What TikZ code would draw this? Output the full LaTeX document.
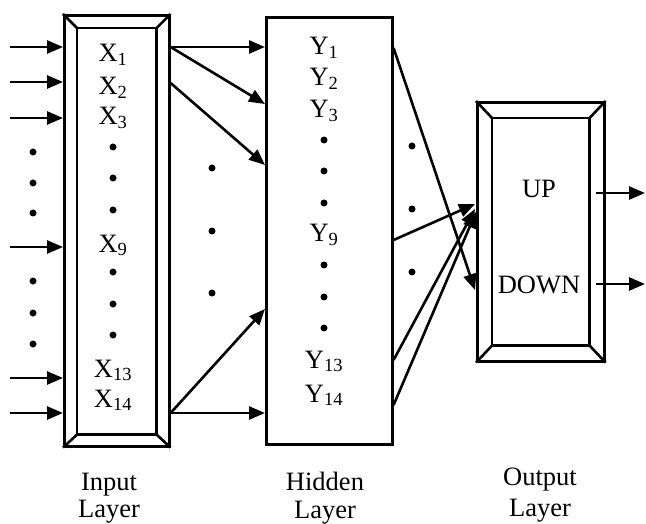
\documentclass[tikz,border=0pt]{standalone}
\usepackage{fontspec}
\setmainfont{Liberation Serif}
\usetikzlibrary{arrows.meta}
\begin{document}
\begin{tikzpicture}[x=1pt,y=-1pt, line width=2.6pt,
 lbl/.style={font=\fontsize{26.5}{30}\selectfont, inner sep=0pt, anchor=base},
 arr/.style={-{Triangle[length=16pt,width=13pt]}, line width=2.6pt},
 dotm/.style={circle, fill, inner sep=0pt, minimum size=7pt},
 boxn/.style={draw, inner sep=0pt, anchor=north west},
 ]
\useasboundingbox (0,0) rectangle (646,524);

% ---------- boxes ----------
\node[boxn, minimum width=105pt, minimum height=431pt] (inbox) at (63,14) {};
\draw ([shift={(14,14)}]inbox.north west) rectangle ([shift={(-14,-13)}]inbox.south east);
\draw (inbox.north west) -- ++(14,14);
\draw (inbox.north east) -- ++(-14,14);
\draw (inbox.south west) -- ++(14,-13);
\draw (inbox.south east) -- ++(-14,-13);

\node[boxn, minimum width=126pt, minimum height=427pt] (hid) at (265,16) {};

\node[boxn, minimum width=127pt, minimum height=259pt] (outbox) at (476,101) {};
\draw ([shift={(16,17)}]outbox.north west) rectangle ([shift={(-16,-17)}]outbox.south east);
\draw (outbox.north west) -- ++(16,17);
\draw (outbox.north east) -- ++(-16,17);
\draw (outbox.south west) -- ++(16,-17);
\draw (outbox.south east) -- ++(-16,-17);

% ---------- input labels ----------
\node[lbl] (x1) at (113,62) {X\textsubscript{1}};
\node[lbl] (x2) at (113,95) {X\textsubscript{2}};
\node[lbl] (x3) at (113,125) {X\textsubscript{3}};
\node[dotm] (xd1) at (113,147) {};
\node[dotm] (xd2) at (113,178) {};
\node[dotm] (xd3) at (113,210) {};
\node[lbl] (x9) at (113,252) {X\textsubscript{9}};
\node[dotm] (xd4) at (113,272) {};
\node[dotm] (xd5) at (113,304) {};
\node[dotm] (xd6) at (113,335) {};
\node[lbl] (x13) at (113,377) {X\textsubscript{13}};
\node[lbl] (x14) at (113,407) {X\textsubscript{14}};

% ---------- hidden labels ----------
\node[lbl] (y1) at (324,55) {Y\textsubscript{1}};
\node[lbl] (y2) at (324,86) {Y\textsubscript{2}};
\node[lbl] (y3) at (324,118) {Y\textsubscript{3}};
\node[dotm] (yd1) at (324,140) {};
\node[dotm] (yd2) at (324,171) {};
\node[dotm] (yd3) at (324,203) {};
\node[lbl] (y9) at (324,242) {Y\textsubscript{9}};
\node[dotm] (yd4) at (324,265) {};
\node[dotm] (yd5) at (324,297) {};
\node[dotm] (yd6) at (324,328) {};
\node[lbl] (y13) at (324,368) {Y\textsubscript{13}};
\node[lbl] (y14) at (324,402) {Y\textsubscript{14}};

% ---------- output labels ----------
\node[lbl] (up) at (539,198) {UP};
\node[lbl] (down) at (539,293) {DOWN};

% ---------- side dots ----------
\node[dotm] (ld1) at (33,152) {};
\node[dotm] (ld2) at (33,183) {};
\node[dotm] (ld3) at (33,213) {};
\node[dotm] (ld4) at (33,281) {};
\node[dotm] (ld5) at (33,313) {};
\node[dotm] (ld6) at (33,344) {};
\node[dotm] (md1) at (212,168) {};
\node[dotm] (md2) at (212,231) {};
\node[dotm] (md3) at (212,293) {};
\node[dotm] (rd1) at (412,146) {};
\node[dotm] (rd2) at (412,209) {};
\node[dotm] (rd3) at (412,272) {};

% ---------- input arrows ----------
\foreach \yy [count=\i] in {47,82,118,247,378,413} {
  \coordinate (in\i) at (10,\yy);
  \draw[arr] (in\i) -- (in\i -| inbox.west);
}

% ---------- input -> hidden ----------
\coordinate (a1) at (inbox.east |- 0,47);
\coordinate (a2) at (inbox.east |- 0,83);
\coordinate (a3) at (inbox.east |- 0,413);
\coordinate (h1) at (hid.west |- 0,47);
\coordinate (h2) at (hid.west |- 0,104);
\coordinate (h3) at (hid.west |- 0,165);
\coordinate (h4) at (hid.west |- 0,309);
\coordinate (h5) at (hid.west |- 0,413);
\draw[arr] (a1) -- (h1);
\draw[arr] (a1) -- (h2);
\draw[arr] (a2) -- (h3);
\draw[arr] (a3) -- (h4);
\draw[arr] (a3) -- (h5);

% ---------- hidden -> output ----------
\coordinate (b1) at (hid.east |- 0,48);
\coordinate (b2) at (hid.east |- 0,240);
\coordinate (b3) at (hid.east |- 0,360);
\coordinate (b4) at (hid.east |- 0,405);
\coordinate (o1) at (475,290);
\coordinate (o2) at (475,204);
\coordinate (o3) at (475,209);
\coordinate (o4) at (476,212);
\draw[arr] (b1) -- (o1);
\draw[arr] (b2) -- (o2);
\draw[arr] (b3) -- (o3);
\draw[arr] (b4) -- (o4);

% ---------- output arrows ----------
\coordinate (u0) at (596,193);
\coordinate (u1) at (645,193);
\coordinate (d0) at (596,284);
\coordinate (d1) at (645,284);
\draw[arr] (u0) -- (u1);
\draw[arr] (d0) -- (d1);

% ---------- captions ----------
\node[lbl] (cin1) at (109,490) {Input};
\node[lbl] (cin2) at (109,517) {Layer};
\node[lbl] (chid1) at (325,490) {Hidden};
\node[lbl] (chid2) at (325,518) {Layer};
\node[lbl] (cout1) at (540,485) {Output};
\node[lbl] (cout2) at (540,516) {Layer};
\end{tikzpicture}
\end{document}
